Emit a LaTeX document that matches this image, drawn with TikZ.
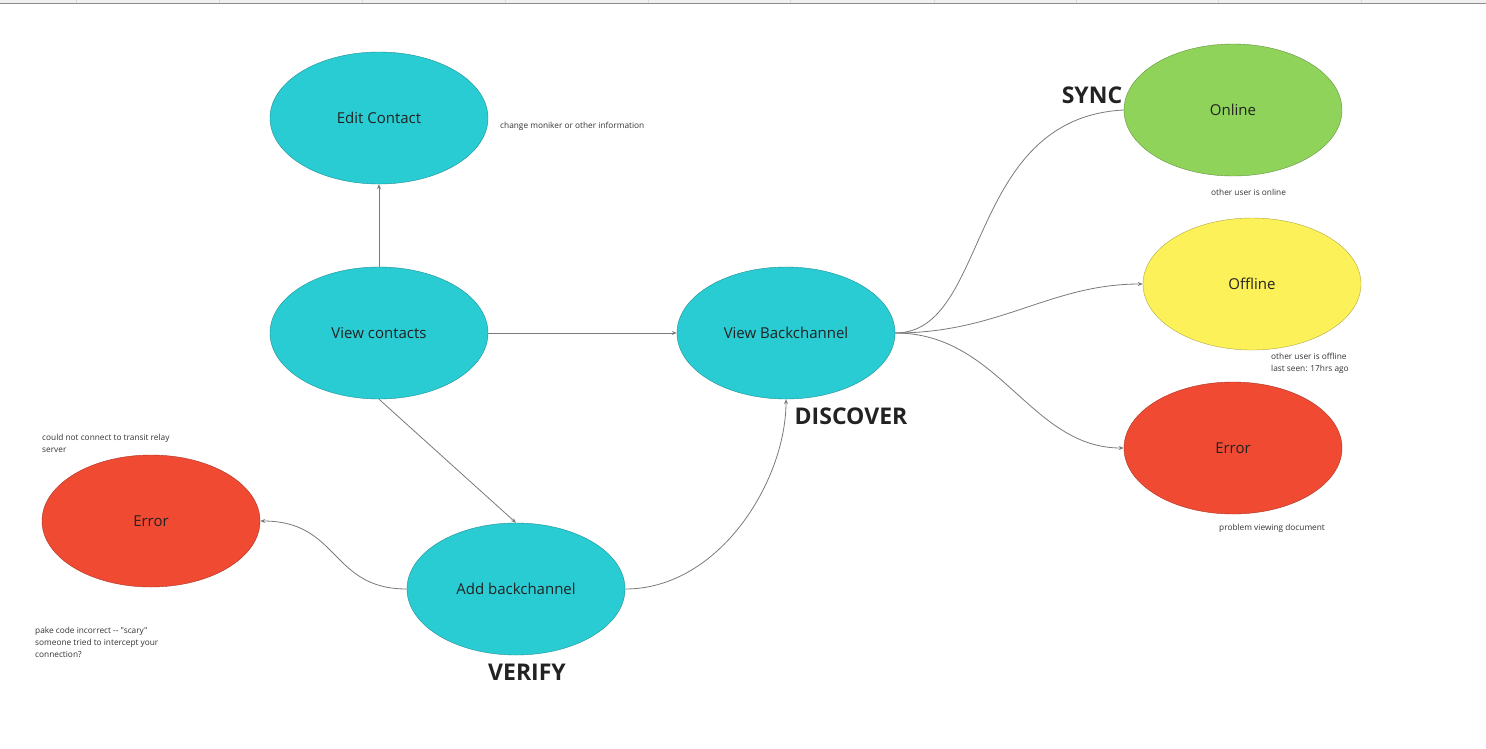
\documentclass[tikz,border=0pt]{standalone}
\usepackage{fontspec}
\setmainfont{Open Sans}[Ligatures=TeXOff]
\usetikzlibrary{shapes.geometric,arrows.meta}
\definecolor{cyanfill}{HTML}{2ACCD4}
\definecolor{redfill}{HTML}{F04A33}
\definecolor{greenfill}{HTML}{8FD35A}
\definecolor{yellowfill}{HTML}{FCF159}
\definecolor{edgegrey}{HTML}{7A7A7A}
\definecolor{txt}{HTML}{222222}
\tikzset{
  oval/.style={ellipse, draw=#1!70!black, line width=0.4pt, fill=#1, minimum width=218pt, minimum height=132pt, inner sep=0pt, text=txt, font=\fontsize{15}{18}\selectfont},
  conn/.style={draw=edgegrey, line width=0.8pt, -{Stealth[length=5pt,width=4pt]}},
  connplain/.style={draw=edgegrey, line width=0.8pt},
  note/.style={anchor=west, align=left, text=black!80, font=\fontsize{8.3}{12}\selectfont, inner sep=0pt},
  phase/.style={text=txt, font=\bfseries\fontsize{23}{27}\selectfont, inner sep=0pt}
}
\begin{document}
\begin{tikzpicture}[x=1pt,y=-1pt]
\useasboundingbox (0,0) rectangle (1486,748);
\fill[white] (0,0) rectangle (1486,748);
% top bar
\fill[black!6] (0,0) rectangle (1486,3);
\draw[black!45, line width=0.8pt] (0,3.4) -- (1486,3.4);
\foreach \xx in {76,219,362,505,648,790,934,1076,1218,1361}
  \draw[black!15, line width=0.6pt] (\xx,0) -- (\xx,3);

% nodes
\node[oval=cyanfill] (edit) at (379,118) {Edit Contact};
\node[oval=cyanfill] (view) at (379,333) {View contacts};
\node[oval=cyanfill] (vbc) at (786,333) {View Backchannel};
\node[oval=cyanfill] (add) at (516,589) {Add backchannel};
\node[oval=redfill] (errl) at (151,521) {Error};
\node[oval=greenfill] (online) at (1233,110) {Online};
\node[oval=yellowfill] (offline) at (1252,284) {Offline};
\node[oval=redfill] (errr) at (1233,448) {Error};

% phase labels
\node[phase] (sync) at (1092,95) {SYNC};
\node[phase] (disc) at (851,416) {DISCOVER};
\node[phase] (verify) at (527,672) {VERIFY};

% notes
\node[note] (n1) at (500,126) {change moniker or other information};
\node[note] (n2) at (1211,192) {other user is online};
\node[note] (n3) at (1271,363) {other user is offline\\last seen: 17hrs ago};
\node[note] (n4) at (42,443) {could not connect to transit relay\\server};
\node[note] (n5) at (35,642) {pake code incorrect -- "scary"\\someone tried to intercept your\\connection?};
\node[note] (n6) at (1219,528) {problem viewing document};

% connectors
\draw[conn] (view.north) -- (edit.south);
\draw[conn] (view.east) -- (vbc.west);
\draw[conn] (view.south) -- (add.north);
\draw[conn] (add.west) .. controls (330,589) and (340,521) .. (errl.east);
\draw[conn] (add.east) .. controls (720,589) and (786,480) .. (vbc.south);
\draw[connplain] (vbc.east) .. controls (990,333) and (965,118) .. (online.west);
\draw[conn] (vbc.east) .. controls (1000,333) and (1050,284) .. (offline.west);
\draw[conn] (vbc.east) .. controls (1000,333) and (1030,448) .. (errr.west);
\end{tikzpicture}
\end{document}
